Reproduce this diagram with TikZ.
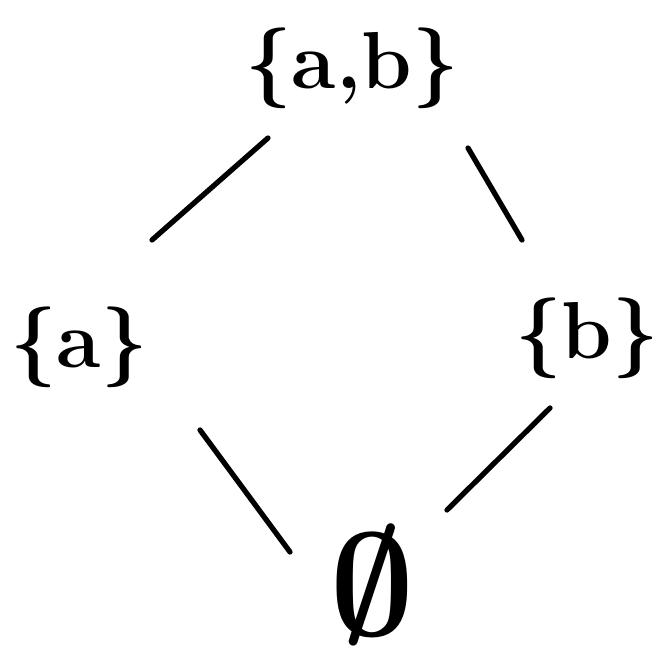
\documentclass[tikz,border=0pt]{standalone}
\usepackage{amsmath,amssymb}
\usepackage{tikz}

\begin{document}
\begin{tikzpicture}[
    set/.style={inner sep=0pt,font=\fontsize{46}{50}\selectfont\bfseries},
    empty/.style={inner sep=0pt,scale=4,font=\fontsize{20}{24}\selectfont\boldmath},
    edge/.style={line width=3pt,line cap=round,black}
]
\useasboundingbox (0,0) rectangle (13.18,13.28);
\node[set] (ab) at (7.04,11.92) {\{a,b\}};
\node[set] (a) at (1.58,6.34) {\{a\}};
\node[set] (b) at (11.74,6.52) {\{b\}};
\node[empty] (none) at (7.44,1.58) {$\emptyset$};
\draw[edge] ([shift={(-1.68,-1.40)}]ab.center) -- ([shift={(1.46,2.14)}]a.center);
\draw[edge] ([shift={(2.32,-1.60)}]ab.center) -- ([shift={(-1.30,1.96)}]b.center);
\draw[edge] ([shift={(2.42,-1.66)}]a.center) -- ([shift={(-1.64,0.66)}]none.center);
\draw[edge] ([shift={(-0.74,-1.40)}]b.center) -- ([shift={(1.50,1.50)}]none.center);
\end{tikzpicture}
\end{document}
